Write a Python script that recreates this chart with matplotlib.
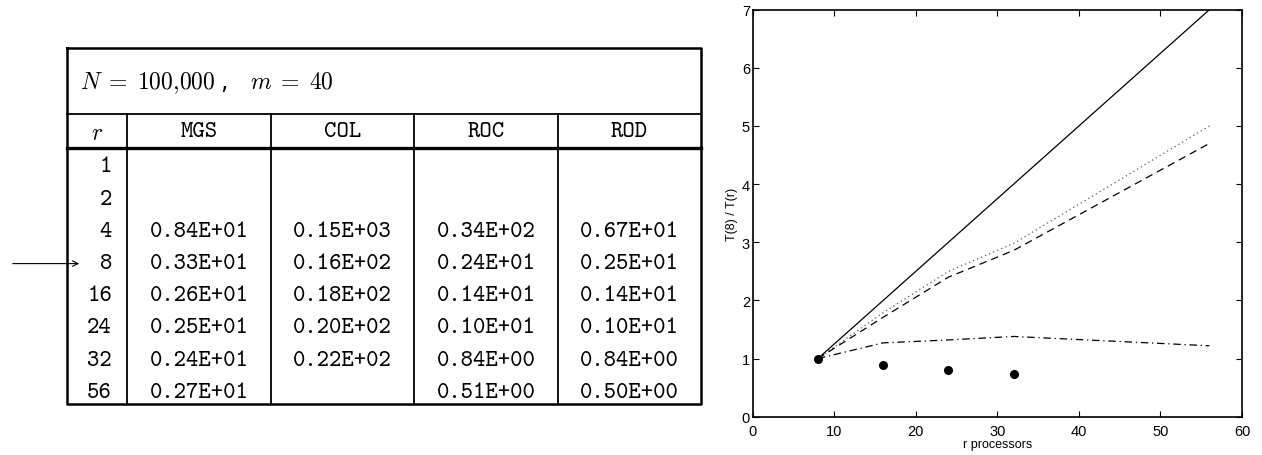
import matplotlib
matplotlib.use("Agg")
import matplotlib.pyplot as plt

plt.rcParams['mathtext.fontset'] = 'cm'

# Table data
r_vals = [1, 2, 4, 8, 16, 24, 32, 56]
col_names = ["MGS", "COL", "ROC", "ROD"]
mgs = ["", "", "0.84E+01", "0.33E+01", "0.26E+01", "0.25E+01", "0.24E+01", "0.27E+01"]
col = ["", "", "0.15E+03", "0.16E+02", "0.18E+02", "0.20E+02", "0.22E+02", ""]
roc = ["", "", "0.34E+02", "0.24E+01", "0.14E+01", "0.10E+01", "0.84E+00", "0.51E+00"]
rod = ["", "", "0.67E+01", "0.25E+01", "0.14E+01", "0.10E+01", "0.84E+00", "0.50E+00"]

# Speedup data T(8)/T(r)
procs = [8, 16, 24, 32, 56]
ideal = [1, 2, 3, 4, 7]
rod_speedup = [1, 1.79, 2.5, 2.98, 5.0]
roc_speedup = [1, 1.71, 2.4, 2.86, 4.7]
mgs_speedup = [1, 1.27, 1.32, 1.38, 1.22]
col_procs = [8, 16, 24, 32]
col_speedup = [1, 0.89, 0.80, 0.73]

W, H = 1262, 456
fig = plt.figure(figsize=(W / 100, H / 100), dpi=100)

# ---- table drawn in pixel coords ----
tx = fig.add_axes([0, 0, 1, 1])
tx.set_xlim(0, W)
tx.set_ylim(H, 0)
tx.axis('off')

left, right, top, bottom = 67, 701, 49, 405
title_line, head_line = 115, 149
vlines = [127, 271, 414, 558]

tx.plot([left, right, right, left, left], [top, top, bottom, bottom, top], 'k-', lw=1.8)
tx.plot([left, right], [title_line, title_line], 'k-', lw=1.3)
tx.plot([left, right], [head_line, head_line], 'k-', lw=2.4)
for x in vlines:
    tx.plot([x, x], [title_line, bottom], 'k-', lw=1.3)

tt = dict(fontfamily='cmtt10', fontsize=17)
tx.text(80, 83, r'$N\;=\;100{,}000\;$,   $m\;=\;40$', fontsize=17,
        ha='left', va='center')
tx.text((left + vlines[0]) / 2, 133, r'$r$', fontsize=17, ha='center', va='center')
edges = vlines + [right]
for j, name in enumerate(col_names):
    tx.text((edges[j] + edges[j + 1]) / 2, 133, name, ha='center', va='center', **tt)

row0, dy = 168, 32.2
columns = [mgs, col, roc, rod]
for i, r in enumerate(r_vals):
    y = row0 + i * dy
    tx.text(112, y, str(r), ha='right', va='center', **tt)
    for j, vals in enumerate(columns):
        if vals[i]:
            tx.text((edges[j] + edges[j + 1]) / 2, y, vals[i], ha='center', va='center', **tt)

# arrow pointing at r = 8
y8 = row0 + r_vals.index(8) * dy
tx.annotate('', xy=(82, y8), xytext=(10, y8),
            arrowprops=dict(arrowstyle='->', lw=0.8, color='black'))

# ---- speedup plot ----
ax = fig.add_axes([752.7 / W, 1 - 417.7 / H, (1242 - 752.7) / W, (417.7 - 10.7) / H])
ax.plot(procs, ideal, 'k-', lw=0.9)
ax.plot(procs, rod_speedup, color='0.35', ls=(0, (1, 2.5)), lw=0.9)
ax.plot(procs, roc_speedup, 'k', ls=(0, (6, 4)), lw=0.9)
ax.plot(procs, mgs_speedup, 'k', ls=(0, (6, 3, 1, 3)), lw=0.9)
ax.plot(col_procs, col_speedup, 'ko', ms=5.5, ls='none')

ax.set_xlim(0, 60)
ax.set_ylim(0, 7)
ax.set_xticks(range(0, 61, 10))
ax.set_yticks(range(0, 8))
ax.tick_params(direction='in', length=4, width=0.8, top=True, right=True,
               labelsize=10.5, pad=2)
ax.tick_params(axis='x', pad=5)
for s in ax.spines.values():
    s.set_linewidth(1.2)
for lab in ax.get_xticklabels() + ax.get_yticklabels():
    lab.set_fontfamily('Liberation Sans')
ax.set_xlabel('r processors', fontsize=9, fontfamily='Liberation Sans', labelpad=0)
ax.set_ylabel('T(8) / T(r)', fontsize=9, fontfamily='Liberation Sans', labelpad=3)

fig.savefig('out.png', dpi=100)
